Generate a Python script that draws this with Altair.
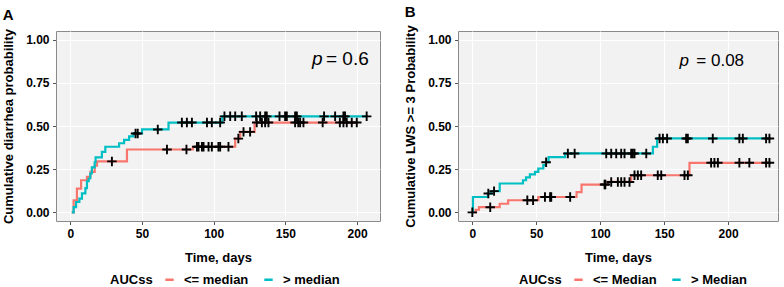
import altair as alt
import pandas as pd

RED = "#F8766D"
TEAL = "#00BFC4"
FONT = "Liberation Sans"

# ---------------- Panel A : cumulative diarrhea probability ----------------
A_LABELS = ["<= median", "> median"]
A_LOW_T = [1, 2.3, 4.6, 7.5, 11.6, 14, 17, 18.6, 39.5, 85.5, 115, 118.5, 128.5]
A_LOW_P = [0, 0.07, 0.138, 0.186, 0.205, 0.234, 0.27, 0.295, 0.364, 0.38, 0.427, 0.466, 0.52]
A_LOW_CENS = [29, 67.4, 81, 88.3, 89.4, 91.8, 92.9, 96.4, 98.7, 103.3, 104.5, 110.3,
              117.2, 120.8, 125.4, 130, 133.6, 135.9, 138.2, 156.8, 159, 160.3, 162.6,
              176, 188, 190.5, 192.8, 196.3, 199.8]
A_HIGH_T = [1, 2.3, 4, 6.3, 8.1, 10.5, 11.6, 12.8, 13.9, 15, 17, 17.6, 22, 24.4,
            34, 37.5, 41, 44, 50, 68.5, 106]
A_HIGH_P = [0, 0.03, 0.06, 0.08, 0.11, 0.14, 0.18, 0.196, 0.225, 0.26, 0.29, 0.318, 0.35, 0.38,
            0.40, 0.42, 0.44, 0.457, 0.48, 0.52, 0.556]
A_HIGH_CENS = [45.5, 47, 61, 77.8, 81.3, 84.8, 95.3, 98.7, 104.5, 107.5, 111.5, 115, 119.6,
               129.6, 132.4, 135.9, 137, 145.9, 149.8, 151, 156.8, 158, 177, 184.7, 190.5,
               191.6, 206.7]

# ---------------- Panel B : cumulative LWS >= 3 probability ----------------
B_LABELS = ["<= Median", "> Median"]
B_LOW_T = [0, 2.6, 5.2, 21.4, 28, 51.6, 81.5, 85.4, 106, 124.2, 169.8]
B_LOW_P = [0, 0.015, 0.03, 0.05, 0.07, 0.089, 0.117, 0.161, 0.176, 0.215, 0.287]
B_LOW_CENS = [14, 43, 47.5, 56.8, 60.8, 61.7, 76.5, 103.4, 104, 108.6, 113.8, 116.4, 119,
              122.9, 126.8, 129.4, 132, 145, 147.7, 165.9, 168.5, 186.7, 189.3, 192,
              208.8, 216.6, 229.7, 232.3]
B_HIGH_T = [0, 0.5, 12.2, 14.8, 21.4, 39.6, 42, 45, 49, 51.6, 55.5, 57.5, 59.6, 72.6, 141.2, 144.5]
B_HIGH_P = [0, 0.089, 0.109, 0.123, 0.167, 0.186, 0.203, 0.22, 0.234, 0.254, 0.273, 0.29,
            0.32, 0.341, 0.38, 0.428]
B_HIGH_CENS = [0, 12.5, 17, 57.7, 74.7, 80, 104.7, 108.6, 112.5, 116.4, 119, 124.2, 125.5,
               126.8, 136, 146.4, 149, 152.3, 167.2, 168.5, 188, 208.8, 211.5, 229.7, 232.3]

X_TICKS = [0, 50, 100, 150, 200]
Y_TICKS = [0, 0.25, 0.5, 0.75, 1.0]

CROSS = "M-1,0L1,0M0,-1L0,1"


def step_rows(group, ts, ps, cens):
    rows = [dict(t=t, p=p, g=group) for t, p in zip(ts, ps)]
    end = max(cens + [ts[-1]])
    rows.append(dict(t=end, p=ps[-1], g=group))
    return rows


def cens_rows(group, ts, ps, cens):
    rows = []
    for c in cens:
        val = ps[0]
        for t, p in zip(ts, ps):
            if t <= c:
                val = p
        rows.append(dict(t=c, p=val, g=group))
    return rows


def panel(letter, ytitle, xdom, width, labels, low, high, ptxt, pfs, px, peq_x, py, legx):
    lines = pd.DataFrame(step_rows(labels[0], *low) + step_rows(labels[1], *high))
    cens = pd.DataFrame(cens_rows(labels[0], *low) + cens_rows(labels[1], *high))
    x = alt.X("t:Q", scale=alt.Scale(domain=xdom, nice=False, zero=False),
              axis=alt.Axis(values=X_TICKS, title="Time, days", titlePadding=12))
    y = alt.Y("p:Q", scale=alt.Scale(domain=[-0.05, 1.05], nice=False, zero=False),
              axis=alt.Axis(values=Y_TICKS, format=".2f", title=ytitle, titlePadding=10))
    line = alt.Chart(lines).mark_line(interpolate="step-after", strokeWidth=2.2).encode(
        x=x, y=y,
        color=alt.Color("g:N", scale=alt.Scale(domain=labels, range=[RED, TEAL]),
                        sort=labels,
                        legend=alt.Legend(title="AUCss", orient="none", direction="horizontal",
                                          titleOrient="left", legendX=legx, legendY=242,
                                          symbolType="stroke", symbolStrokeWidth=2.5,
                                          symbolSize=70, labelOffset=8, columnPadding=10,
                                          titlePadding=10)),
        order=alt.Order("g:N", sort="ascending"),
    )
    pts = alt.Chart(cens).mark_point(shape=CROSS, filled=False, color="black", strokeWidth=1.9,
                                     size=90, opacity=1).encode(x=x, y=y)
    one = pd.DataFrame({"s": ["p"], "e": [ptxt]})
    t1 = alt.Chart(one).mark_text(align="left", baseline="alphabetic", fontStyle="italic",
                                  fontSize=pfs, font=FONT, color="black").encode(
        text="s:N", x=alt.value(px), y=alt.value(py))
    t2 = alt.Chart(one).mark_text(align="left", baseline="alphabetic",
                                  fontSize=pfs, font=FONT, color="black").encode(
        text="e:N", x=alt.value(peq_x), y=alt.value(py))
    return alt.layer(line, pts, t1, t2).properties(
        width=width, height=190,
        title=alt.TitleParams(letter, anchor="start", frame="bounds", fontSize=15,
                              fontWeight="bold", font=FONT, color="black", offset=5),
    )


pa = panel("A", "Cumulative diarrhea probability", [-10, 216], 324, A_LABELS,
           (A_LOW_T, A_LOW_P, A_LOW_CENS), (A_HIGH_T, A_HIGH_P, A_HIGH_CENS),
           "= 0.6", 19, 256, 270, 33.5, 54)
pb = panel("B", "Cumulative LWS >= 3 Probability", [-11.2, 239], 320, B_LABELS,
           (B_LOW_T, B_LOW_P, B_LOW_CENS), (B_HIGH_T, B_HIGH_P, B_HIGH_CENS),
           "= 0.08", 17, 221.6, 238.3, 35, 61)

chart = alt.hconcat(pa, pb, spacing=23).resolve_scale(color="independent").properties(
    padding={"left": 2, "top": 4, "right": 0, "bottom": 0}
).configure_view(
    fill="#F2F2F2", stroke="#8a8a8a", strokeWidth=1
).configure_axis(
    grid=True, gridColor="white", gridWidth=1, domain=False,
    tickColor="#555555", tickSize=3.5, labelPadding=3.5,
    labelFont=FONT, labelFontSize=12, labelFontWeight="bold", labelColor="black",
    titleFont=FONT, titleFontSize=13, titleFontWeight="bold", titleColor="black",
).configure_legend(
    labelFont=FONT, labelFontSize=13, labelFontWeight="bold", labelColor="black",
    titleFont=FONT, titleFontSize=13, titleFontWeight="bold", titleColor="black",
)

chart.save("out.html", embed_options={"renderer": "svg", "actions": False})
